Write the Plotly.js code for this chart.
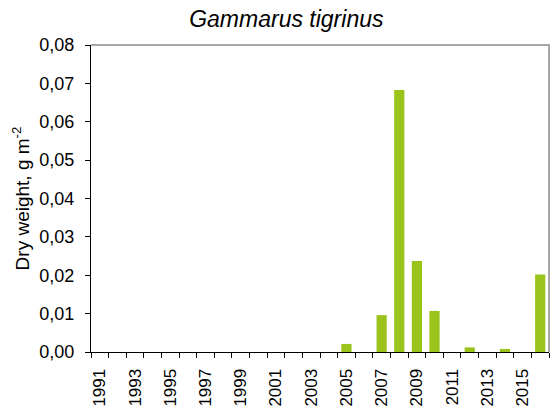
<!DOCTYPE html>
<html><head><meta charset="utf-8">
<script src="https://cdn.plot.ly/plotly-3.0.1.min.js"></script>
<style>body{margin:0;background:#fff}#c{width:556px;height:413px}</style>
</head><body><div id="c"></div>
<script>
const years = ['1991','1992','1993','1994','1995','1996','1997','1998','1999','2000','2001','2002','2003','2004','2005','2006','2007','2008','2009','2010','2011','2012','2013','2014','2015','2016'];
const dryWeight = [0,0,0,0,0,0,0,0,0,0,0,0,0,0,0.0021,0,0.0096,0.0683,0.0237,0.0107,0,0.0012,0,0.0008,0,0.0202];
const tickLabels = years.map(y => (parseInt(y) % 2 === 1 ? y : ''));
const yTicks = [0,0.01,0.02,0.03,0.04,0.05,0.06,0.07,0.08];

const trace = {type:'bar', x: years, y: dryWeight, marker:{color:'#9AC31C'}, hoverinfo:'x+y'};
const layout = {
  width:556, height:413,
  margin:{l:91, r:7, t:45, b:61},
  separators:', ',
  font:{family:'Liberation Sans, Arial, sans-serif', color:'#000'},
  title:{text:'<i>Gammarus tigrinus</i>', x:0.515, xanchor:'center', y:0.955, yanchor:'middle', font:{size:23, color:'#000'}},
  bargap:0.42,
  showlegend:false,
  xaxis:{type:'category', tickvals: years, ticktext: tickLabels, tickson:'boundaries', ticks:'outside', ticklen:5, tickcolor:'#000',
         tickangle:-90, tickfont:{size:17}, ticklabelstandoff:9, showline:true, linecolor:'#000', linewidth:1, showgrid:false, zeroline:false},
  yaxis:{range:[0,0.08], tickvals:yTicks, tickformat:'.2f', ticks:'outside', ticklen:5, tickcolor:'#000', tickfont:{size:18},
         ticklabelstandoff:7, showline:true, linecolor:'#000', linewidth:1, showgrid:false, zeroline:false,
         title:{text:'Dry weight, g m<sup>-2</sup>', font:{size:19}, standoff:4}},
  shapes:[{type:'path', xref:'paper', yref:'paper', path:'M0,1 L1,1 L1,0', line:{color:'#8c8c8c', width:1.5}}],
  plot_bgcolor:'#fff', paper_bgcolor:'#fff'
};
Plotly.newPlot('c',[trace],layout,{displayModeBar:false, staticPlot:true});
</script></body></html>
